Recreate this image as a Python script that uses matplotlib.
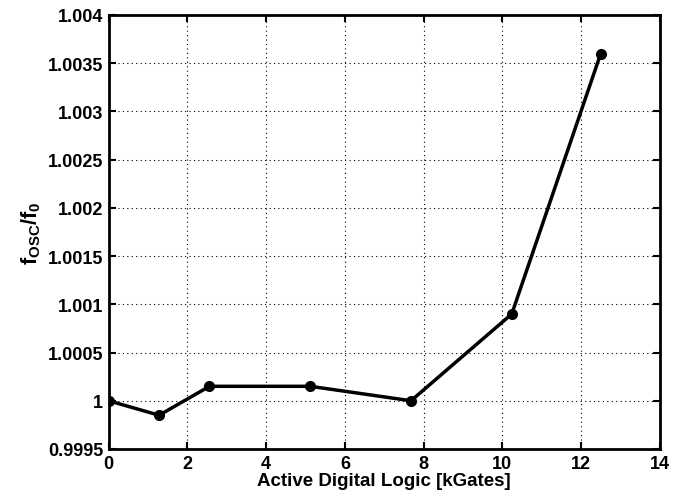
import matplotlib
matplotlib.use("Agg")
import matplotlib.pyplot as plt

plt.rcParams['font.family'] = ['Liberation Sans', 'DejaVu Sans']
plt.rcParams['font.weight'] = 'bold'
plt.rcParams['mathtext.fontset'] = 'custom'
plt.rcParams['mathtext.bf'] = 'Liberation Sans:bold'
plt.rcParams['mathtext.rm'] = 'Liberation Sans:bold'
plt.rcParams['mathtext.it'] = 'Liberation Sans:bold'

gates = [0, 1.28, 2.56, 5.12, 7.68, 10.24, 12.5]
ratio = [1.0, 0.99985, 1.00015, 1.00015, 1.0, 1.0009, 1.0036]

xticks = [0, 2, 4, 6, 8, 10, 12, 14]
yticks = [0.9995, 1.0, 1.0005, 1.001, 1.0015, 1.002, 1.0025, 1.003, 1.0035, 1.004]
ytick_labels = ['0.9995', '1', '1.0005', '1.001', '1.0015', '1.002', '1.0025', '1.003', '1.0035', '1.004']

fig = plt.figure(figsize=(6.88, 5.02), dpi=100)
ax = fig.add_axes([0.158, 0.1036, 0.801, 0.8646])
ax.plot(gates, ratio, color='black', lw=2.5, marker='o', ms=7, zorder=3)
ax.set_xlim(0, 14)
ax.set_ylim(0.9995, 1.004)
ax.set_xticks(xticks)
ax.set_xticklabels([str(t) for t in xticks])
ax.set_yticks(yticks)
ax.set_yticklabels(ytick_labels)
ax.grid(True, color='black', linestyle=(0, (1, 3)), linewidth=0.8)
ax.tick_params(direction='in', top=True, right=True, length=5, width=1.5,
               labelsize=13, pad=4)
for lab in ax.get_xticklabels() + ax.get_yticklabels():
    lab.set_fontweight('bold')
for s in ax.spines.values():
    s.set_linewidth(2)
ax.set_xlabel('Active Digital Logic [kGates]', fontsize=13.5, fontweight='bold', labelpad=0)
ax.set_ylabel(r'$\mathbf{f_{OSC}/f_0}$', fontsize=15.5, labelpad=3)
fig.savefig('out.png', dpi=100)
